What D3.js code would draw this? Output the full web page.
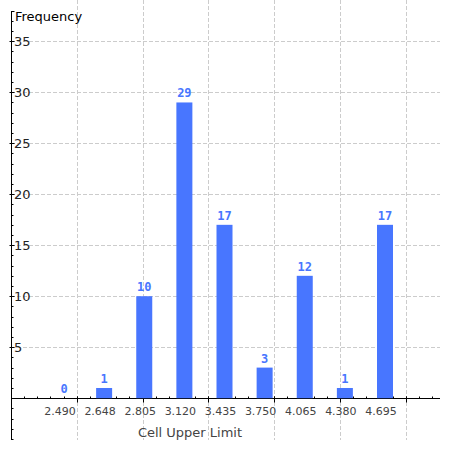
<!DOCTYPE html>
<html>
<head>
<meta charset="utf-8">
<script src="https://cdn.jsdelivr.net/npm/d3@7"></script>
<style>
  body { margin: 0; background: #fff; }
  svg { display: block; }
</style>
</head>
<body>
<div id="chart"></div>
<script>
// dados do histograma
const cellLabels = ["2.490", "2.648", "2.805", "3.120", "3.435", "3.750", "4.065", "4.380", "4.695"];
const frequency = [0, 1, 10, 29, 17, 3, 12, 1, 17];
const yTicks = [5, 10, 15, 20, 25, 30, 35];
const xGrid = [0, 1, 2, 3, 4, 5];

const width = 450, height = 450;
const barColor = "#4876ff";
const gridColor = "#cccccc";

const svg = d3.select("#chart")
  .append("svg")
  .attr("width", width)
  .attr("height", height);

//============ scales ============
// eixo numérico por trás (só grelha e ticks)
const xNum = d3.scaleLinear().domain([-1, 5.52]).range([11, 440]);
// categorias das barras
const x = d3.scalePoint().domain(cellLabels).range([64, 385]);
const y = d3.scaleLinear().domain([-4.1, 38.9]).range([440, 1.5]);
const barWidth = 16;

//============ grelha ============
svg.append("g")
  .selectAll("line")
  .data(yTicks)
  .join("line")
  .attr("x1", 11)
  .attr("x2", 440)
  .attr("y1", d => Math.round(y(d)) + 0.5)
  .attr("y2", d => Math.round(y(d)) + 0.5)
  .attr("stroke", gridColor)
  .attr("stroke-dasharray", "4,2");

svg.append("g")
  .selectAll("line")
  .data(xGrid)
  .join("line")
  .attr("x1", d => Math.round(xNum(d)) + 0.5)
  .attr("x2", d => Math.round(xNum(d)) + 0.5)
  .attr("y1", 0)
  .attr("y2", 440)
  .attr("stroke", gridColor)
  .attr("stroke-dasharray", "4,2");

//============ eixo X ============
const axisY = Math.round(y(0)) + 0.5;
const xAxis = svg.append("g").attr("stroke", "#000");
xAxis.append("line")
  .attr("x1", 11).attr("x2", 440)
  .attr("y1", axisY).attr("y2", axisY);
xAxis.selectAll(".minor")
  .data(d3.range(-1, 5.52, 0.2))
  .join("line")
  .attr("x1", d => Math.round(xNum(d)) + 0.5)
  .attr("x2", d => Math.round(xNum(d)) + 0.5)
  .attr("y1", axisY)
  .attr("y2", axisY - 2);
xAxis.selectAll(".major")
  .data(xGrid)
  .join("line")
  .attr("x1", d => Math.round(xNum(d)) + 0.5)
  .attr("x2", d => Math.round(xNum(d)) + 0.5)
  .attr("y1", axisY - 2)
  .attr("y2", axisY + 4);

svg.append("g")
  .selectAll("text")
  .data(cellLabels)
  .join("text")
  .attr("x", d => x(d) - 4)
  .attr("y", 415)
  .attr("text-anchor", "middle")
  .style("font-family", "DejaVu Sans")
  .style("font-size", "11px")
  .attr("fill", "#444")
  .text(d => d);

svg.append("text")
  .attr("x", 190)
  .attr("y", 437)
  .attr("text-anchor", "middle")
  .style("font-family", "DejaVu Sans")
  .style("font-size", "13px")
  .attr("fill", "#444")
  .text("Cell Upper Limit");

//============ eixo Y ============
const axisX = 11.5;
const yAxis = svg.append("g").attr("stroke", "#000");
yAxis.append("line")
  .attr("x1", axisX).attr("x2", axisX)
  .attr("y1", 11).attr("y2", 440);
yAxis.append("line")
  .attr("x1", axisX).attr("x2", axisX + 3)
  .attr("y1", 11.5).attr("y2", 11.5);
yAxis.selectAll(".minor")
  .data(d3.range(-4, 38, 1))
  .join("line")
  .attr("x1", axisX)
  .attr("x2", axisX + 2)
  .attr("y1", d => Math.round(y(d)) + 0.5)
  .attr("y2", d => Math.round(y(d)) + 0.5);
yAxis.selectAll(".major")
  .data(yTicks)
  .join("line")
  .attr("x1", axisX - 2)
  .attr("x2", axisX + 3)
  .attr("y1", d => Math.round(y(d)) + 0.5)
  .attr("y2", d => Math.round(y(d)) + 0.5);

svg.append("g")
  .selectAll("text")
  .data(yTicks)
  .join("text")
  .attr("x", 14)
  .attr("y", d => y(d))
  .attr("dy", "0.36em")
  .style("font-family", "DejaVu Sans")
  .style("font-size", "13px")
  .attr("fill", "#222")
  .text(d => d);

svg.append("text")
  .attr("x", 15)
  .attr("y", 21)
  .style("font-family", "DejaVu Sans")
  .style("font-size", "13px")
  .attr("fill", "#000")
  .text("Frequency");

//============ barras (por cima do eixo) ============
svg.append("g")
  .selectAll("rect")
  .data(frequency)
  .join("rect")
  .attr("x", (d, i) => x(cellLabels[i]) - barWidth / 2)
  .attr("width", barWidth)
  .attr("y", d => y(d))
  .attr("height", d => y(0) - y(d))
  .attr("fill", barColor)
  .attr("stroke", d => d === 0 ? barColor : "none");

// valores por cima
svg.append("g")
  .selectAll("text")
  .data(frequency)
  .join("text")
  .attr("x", (d, i) => x(cellLabels[i]))
  .attr("y", d => y(d) - 5)
  .attr("text-anchor", "middle")
  .style("font-family", "DejaVu Sans Mono")
  .style("font-weight", "bold")
  .style("font-size", "12px")
  .attr("fill", barColor)
  .text(d => d);
</script>
</body>
</html>
